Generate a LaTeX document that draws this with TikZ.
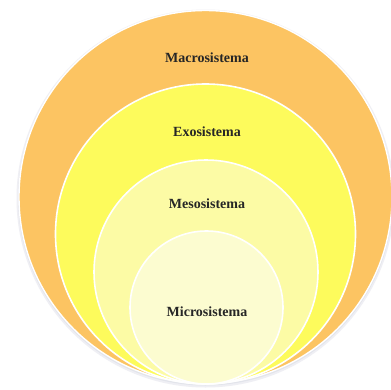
\documentclass[tikz,border=0pt]{standalone}
\usepackage{fontspec}
\setmainfont{Liberation Serif}
\definecolor{macro}{RGB}{252,196,98}
\definecolor{exo}{RGB}{253,251,92}
\definecolor{meso}{RGB}{252,251,165}
\definecolor{micro}{RGB}{252,252,208}
\definecolor{shade}{RGB}{214,216,226}
\tikzset{
  ring/.style={draw=white, line width=1.6pt},
  lbl/.style={font=\bfseries\fontsize{14}{16}\selectfont, text=black!85}
}
\begin{document}
\begin{tikzpicture}[x=1pt,y=-1pt]
\useasboundingbox (0,0) rectangle (391,389);
\clip (0,0) rectangle (391,389);
\fill[white] (0,0) rectangle (391,389);
% soft shadow
\fill[shade!40] (205.5,198.5) circle (189);
\fill[shade!70] (205.5,198) circle (187.5);
\filldraw[fill=macro, draw=white, line width=1.4pt] (205.5,197) circle (186.5);
\filldraw[fill=exo, ring] (205.5,234) circle (150);
\filldraw[fill=meso, ring] (206,272) circle (112);
\filldraw[fill=micro, ring] (206.5,307.5) circle (76.5);
\node[lbl] (macro) at (207,58) {Macrosistema};
\node[lbl] (exo) at (207,132) {Exosistema};
\node[lbl] (meso) at (207,204) {Mesosistema};
\node[lbl] (micro) at (207,312) {Microsistema};
\end{tikzpicture}
\end{document}
